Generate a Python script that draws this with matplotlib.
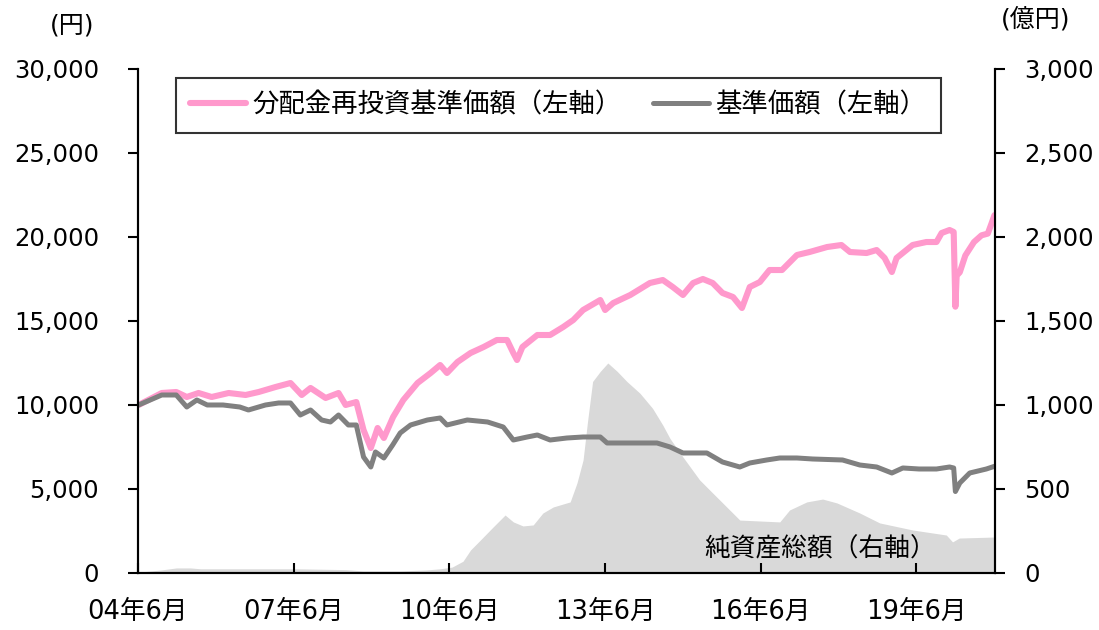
import matplotlib

matplotlib.use("Agg")
import matplotlib.pyplot as plt
import pandas as pd

plt.rcParams["font.family"] = ["DejaVu Sans", "Noto Sans CJK JP"]

# 分配金再投資基準価額 (yen)
reinvest_dates = [
    "2004-06-05", "2004-11-15", "2005-02-25", "2005-05-10", "2005-08-01",
    "2005-11-01", "2006-03-01", "2006-06-28", "2006-09-28", "2007-01-25",
    "2007-05-10", "2007-07-28", "2007-09-28", "2008-01-12", "2008-04-12",
    "2008-06-01", "2008-08-15", "2008-10-05", "2008-11-25", "2009-01-12",
    "2009-02-25", "2009-05-01", "2009-07-12", "2009-10-20", "2010-01-20",
    "2010-03-28", "2010-05-15", "2010-07-28", "2010-10-28", "2011-01-28",
    "2011-05-01", "2011-07-12", "2011-08-25", "2011-09-20", "2011-10-28",
    "2012-02-10", "2012-05-10", "2012-08-10", "2012-10-20", "2012-12-28",
    "2013-04-28", "2013-06-01", "2013-07-28", "2013-11-25", "2014-04-12",
    "2014-07-12", "2014-09-20", "2014-12-01", "2015-02-10", "2015-04-20",
    "2015-06-28", "2015-09-05", "2015-11-18", "2016-01-20", "2016-03-15",
    "2016-05-25", "2016-08-01", "2016-10-28", "2017-02-10", "2017-05-10",
    "2017-09-10", "2017-12-20", "2018-02-18", "2018-06-15", "2018-08-25",
    "2018-10-20", "2018-12-10", "2019-01-12", "2019-05-05", "2019-08-10",
    "2019-10-20", "2019-11-25", "2020-01-20", "2020-02-18", "2020-03-01",
    "2020-03-10", "2020-04-01", "2020-05-10", "2020-07-10", "2020-09-01",
    "2020-10-15", "2020-11-10", "2020-12-01",
]
reinvest_nav = [
    10000, 10714, 10773, 10476, 10714,
    10476, 10714, 10595, 10773, 11071,
    11309, 10595, 11012, 10417, 10714,
    10000, 10178, 8511, 7440, 8630,
    8035, 9285, 10297, 11309, 11904,
    12380, 11904, 12559, 13094, 13452,
    13868, 13868, 13094, 12678, 13452,
    14166, 14166, 14642, 15059, 15654,
    16249, 15654, 16070, 16547, 17261,
    17439, 17023, 16547, 17261, 17499,
    17261, 16666, 16428, 15773, 17023,
    17320, 18034, 18034, 18927, 19106,
    19403, 19523, 19106, 19046, 19225,
    18749, 17916, 18749, 19523, 19701,
    19701, 20237, 20415, 20300, 15850,
    17700, 17900, 18900, 19700, 20100,
    20200, 20800, 21300,
]

# 基準価額 (yen)
nav_dates = [
    "2004-06-05", "2004-11-15", "2005-02-25", "2005-05-10", "2005-07-20",
    "2005-10-01", "2006-01-20", "2006-05-18", "2006-07-18", "2006-11-15",
    "2007-02-15", "2007-05-10", "2007-07-18", "2007-09-28", "2007-12-15",
    "2008-02-15", "2008-04-12", "2008-06-20", "2008-08-15", "2008-10-05",
    "2008-11-25", "2008-12-28", "2009-02-25", "2009-04-28", "2009-06-20",
    "2009-09-01", "2009-12-28", "2010-03-28", "2010-05-15", "2010-10-05",
    "2011-02-25", "2011-06-15", "2011-08-25", "2011-12-01", "2012-02-10",
    "2012-05-10", "2012-09-05", "2012-12-28", "2013-04-28", "2013-06-15",
    "2013-12-15", "2014-06-01", "2014-09-01", "2014-12-01", "2015-05-18",
    "2015-09-05", "2016-01-05", "2016-03-15", "2016-07-12", "2016-10-12",
    "2017-02-10", "2017-06-01", "2017-12-28", "2018-04-28", "2018-08-25",
    "2018-12-10", "2019-02-25", "2019-06-20", "2019-10-20", "2020-01-20",
    "2020-02-18", "2020-03-01", "2020-04-01", "2020-06-10", "2020-10-05",
    "2020-12-01",
]
nav = [
    10000, 10595, 10595, 9880, 10297,
    10000, 10000, 9880, 9702, 10000,
    10119, 10119, 9404, 9702, 9107,
    8988, 9404, 8809, 8809, 6904,
    6309, 7202, 6845, 7619, 8333,
    8809, 9107, 9226, 8809, 9107,
    8988, 8690, 7916, 8095, 8214,
    7916, 8035, 8095, 8095, 7738,
    7738, 7738, 7500, 7143, 7143,
    6607, 6309, 6547, 6726, 6845,
    6845, 6785, 6726, 6428, 6309,
    5952, 6250, 6190, 6190, 6309,
    6250, 4850, 5357, 5952, 6190,
    6350,
]

# 純資産総額 (億円)
assets_dates = [
    "2004-06-05", "2004-09-01", "2004-11-10", "2005-02-25", "2005-06-05",
    "2005-08-15", "2006-06-28", "2007-06-15", "2008-06-01", "2008-10-05",
    "2009-06-20", "2009-12-20", "2010-03-28", "2010-06-20", "2010-09-05",
    "2010-10-28", "2011-01-05", "2011-04-05", "2011-06-28", "2011-08-25",
    "2011-11-01", "2012-01-12", "2012-03-20", "2012-06-01", "2012-09-28",
    "2012-11-15", "2012-12-28", "2013-01-28", "2013-03-05", "2013-04-28",
    "2013-06-20", "2013-08-25", "2013-11-01", "2014-02-01", "2014-05-01",
    "2014-07-12", "2014-09-01", "2014-12-01", "2015-03-28", "2015-06-28",
    "2016-01-05", "2016-10-12", "2016-12-20", "2017-04-20", "2017-08-10",
    "2017-11-18", "2018-04-28", "2018-09-15", "2019-05-05", "2019-12-28",
    "2020-02-10", "2020-03-28", "2020-12-01",
]
assets = [
    5, 12, 18, 30, 30,
    25, 25, 25, 20, 12,
    12, 18, 25, 35, 70,
    137, 196, 274, 345, 304,
    280, 286, 357, 393, 423,
    536, 673, 900, 1140, 1200,
    1250, 1200, 1140, 1070, 980,
    880, 800, 690, 554, 476,
    315, 304, 375, 423, 440,
    417, 357, 298, 256, 226,
    185, 208, 214,
]

tick_dates = ["2004-06-01", "2007-06-01", "2010-06-01", "2013-06-01", "2016-06-01", "2019-06-01"]
tick_labels = ["04年6月", "07年6月", "10年6月", "13年6月", "16年6月", "19年6月"]

reinvest_dates = pd.to_datetime(reinvest_dates)
nav_dates = pd.to_datetime(nav_dates)
assets_dates = pd.to_datetime(assets_dates)

fig = plt.figure(figsize=(10.99, 6.30), dpi=100)
ax = fig.add_axes([0.1256, 0.0905, 0.7798, 0.8000])
ax2 = ax.twinx()

# Net assets area on the right axis, drawn behind the lines
ax2.fill_between(assets_dates, assets, 0, color="#d9d9d9", linewidth=0)
ax2.set_ylim(0, 3000)
ax2.set_yticks(range(0, 3001, 500))
ax2.yaxis.set_major_formatter(matplotlib.ticker.StrMethodFormatter("{x:,.0f}"))

ax.set_zorder(ax2.get_zorder() + 1)
ax.patch.set_visible(False)

ax.plot(reinvest_dates, reinvest_nav, color="#ff99cc", linewidth=4.4,
        solid_capstyle="round", solid_joinstyle="round",
        label="分配金再投資基準価額（左軸）")
ax.plot(nav_dates, nav, color="#808080", linewidth=3.6,
        solid_capstyle="round", solid_joinstyle="round",
        label="基準価額（左軸）")

ax.set_ylim(0, 30000)
ax.set_yticks(range(0, 30001, 5000))
ax.yaxis.set_major_formatter(matplotlib.ticker.StrMethodFormatter("{x:,.0f}"))
ax.set_xlim(pd.Timestamp("2004-06-01"), pd.Timestamp("2020-12-05"))
ax.set_xticks(pd.to_datetime(tick_dates))
ax.set_xticklabels(tick_labels)

# Spines and ticks
for a in (ax, ax2):
    a.spines["top"].set_visible(False)
    for side in ("left", "right", "bottom"):
        a.spines[side].set_linewidth(1.5)
ax.tick_params(axis="y", direction="out", length=7, width=1.5, pad=21, labelsize=17.5)
ax.tick_params(axis="x", direction="in", length=7, width=1.5, pad=19, labelsize=18.5)
ax2.tick_params(axis="y", direction="out", length=7, width=1.5, pad=14, labelsize=17.5)

# Unit labels
fig.text(0.066, 0.960, "(円)", fontsize=18, ha="center", va="center")
fig.text(0.942, 0.970, "(億円)", fontsize=18, ha="center", va="center")

ax.text(0.796, 0.046, "純資産総額（右軸）", transform=ax.transAxes,
        fontsize=18.5, ha="center", va="center")

leg = ax.legend(loc="upper left", bbox_to_anchor=(0.044, 0.982), ncol=2,
                fontsize=19, frameon=True, fancybox=False, handlelength=2.1,
                columnspacing=1.2, handletextpad=0.25, borderpad=0.55,
                borderaxespad=0)
leg.get_frame().set_edgecolor("black")
leg.get_frame().set_linewidth(1.5)

fig.savefig("out.png", dpi=100)
